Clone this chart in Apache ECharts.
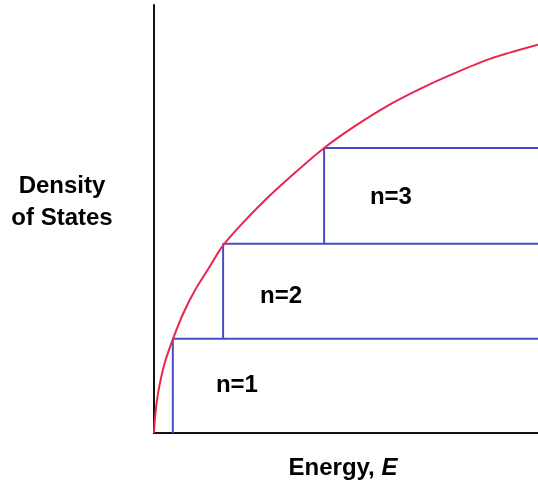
<!DOCTYPE html>
<html><head><meta charset="utf-8">
<script src="https://cdn.jsdelivr.net/npm/echarts@6/dist/echarts.min.js"></script>
<style>html,body{margin:0;padding:0;background:#fff}#c{width:538px;height:491px}</style>
</head><body><div id="c"></div>
<script>
// Density-of-states curve (energy, density), arbitrary units
const curveE = [0, 0.26, 0.78, 1.56, 2.86, 4.95, 7.55, 10.7, 14.6, 17.7, 22.4, 28.9, 36.7, 44.3, 52.3, 60.7, 69.3, 77.1, 87.5, 100];
const curveD = [0, 3.5, 7.7, 11.7, 16.6, 22.0, 27.8, 33.4, 39.0, 43.5, 48.4, 54.4, 60.8, 66.6, 71.7, 76.4, 80.4, 83.6, 87.4, 90.7];
// Staircase (sub-band) levels
const levelNames = ['n=1', 'n=2', 'n=3'];
const levelE = [4.9, 18.0, 44.3];
const levelD = [22.0, 44.2, 66.6];
// label anchor positions for the level names
const labelE = [21.6, 33.1, 61.7];
const labelD = [11.2, 32.0, 55.1];
const eMax = 100, dMax = 100;

const FONT = '"Liberation Sans", Arial, sans-serif';
const chart = echarts.init(document.getElementById('c'), null, {renderer: 'canvas'});

const series = [];
levelE.forEach((e, i) => {
  series.push({
    type: 'line', silent: true, symbol: 'none', z: 2,
    lineStyle: {color: '#4b4bc6', width: 2},
    data: [[e, i ? levelD[i - 1] : 0], [e, levelD[i]], [eMax, levelD[i]]]
  });
});
series.push({
  type: 'line', silent: true, symbol: 'none', smooth: 0.3, z: 3,
  lineStyle: {color: '#e8264f', width: 2},
  data: curveE.map((e, i) => [e, curveD[i]])
});
series.push({
  type: 'scatter', silent: true, symbolSize: 0, z: 4,
  itemStyle: {color: '#000', opacity: 1},
  label: {show: true, position: 'inside', formatter: p => levelNames[p.dataIndex],
    color: '#000', opacity: 1, textBorderWidth: 0, fontFamily: FONT, fontWeight: 'bold', fontSize: 24},
  data: labelE.map((e, i) => [e, labelD[i]])
});

chart.setOption({
  animation: false,
  backgroundColor: '#fff',
  grid: {left: 154, right: 0, top: 5, bottom: 58},
  xAxis: {type: 'value', min: 0, max: eMax,
    axisLine: {show: true, lineStyle: {color: '#111', width: 2}},
    axisTick: {show: false}, axisLabel: {show: false}, splitLine: {show: false}},
  yAxis: {type: 'value', min: 0, max: dMax,
    axisLine: {show: true, lineStyle: {color: '#111', width: 2}},
    axisTick: {show: false}, axisLabel: {show: false}, splitLine: {show: false}},
  graphic: [
    {type: 'text', x: 62, y: 186, style: {text: 'Density', textAlign: 'center', textVerticalAlign: 'middle',
      fill: '#000', font: 'bold 24px ' + FONT}},
    {type: 'text', x: 62, y: 218, style: {text: 'of States', textAlign: 'center', textVerticalAlign: 'middle',
      fill: '#000', font: 'bold 24px ' + FONT}},
    {type: 'text', x: 343, y: 468, style: {text: '{a|Energy, }{b|E}', textAlign: 'center', textVerticalAlign: 'middle',
      rich: {a: {fill: '#000', fontFamily: FONT, fontWeight: 'bold', fontSize: 24},
             b: {fill: '#000', fontFamily: FONT, fontWeight: 'bold', fontStyle: 'italic', fontSize: 24}}}}
  ],
  series: series
});
</script></body></html>
